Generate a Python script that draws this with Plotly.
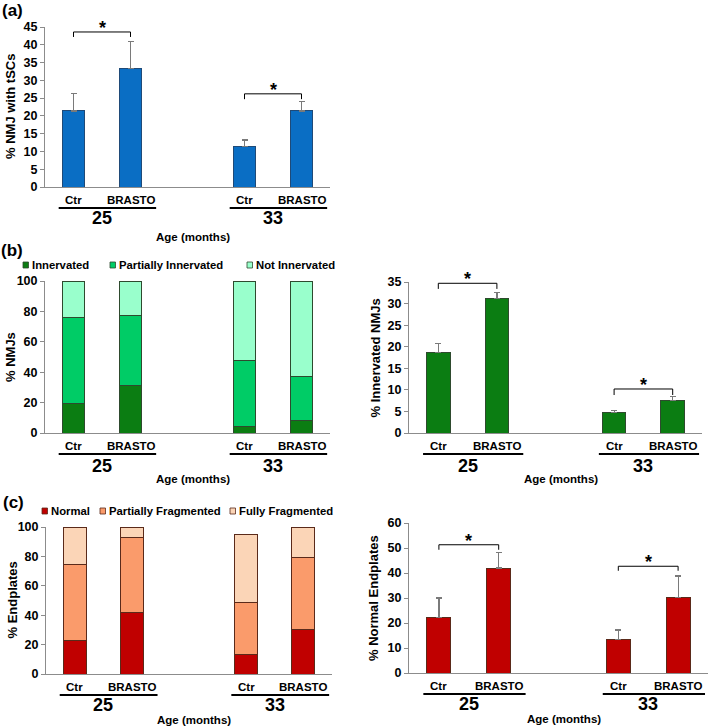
import plotly.graph_objects as go

W, H = 709, 726

# ---------------- data ----------------
ages = ["25", "33"]
conditions = ["Ctr", "BRASTO"]

tsc_mean = [21.4, 33.4, 11.3, 21.4]
tsc_err = [4.9, 7.5, 1.9, 2.6]

innerv_labels = ["Innervated", "Partially Innervated", "Not Innervated"]
innervated = [19.1, 31.4, 4.6, 7.9]
partially_innervated = [57.0, 45.8, 43.4, 29.6]
not_innervated = [23.9, 22.8, 52.0, 62.5]

innerv_mean = [18.6, 31.2, 4.8, 7.6]
innerv_err = [2.1, 1.4, 0.5, 0.9]

frag_labels = ["Normal", "Partially Fragmented", "Fully Fragmented"]
normal = [22.5, 42.0, 13.4, 30.0]
partially_fragmented = [52.0, 50.7, 35.5, 49.5]
fully_fragmented = [25.5, 7.3, 46.1, 20.5]

normal_mean = [22.3, 42.0, 13.3, 30.3]
normal_err = [7.7, 6.1, 3.9, 8.5]

# significance brackets: (age index, bracket height, tick bottom)
sig_a = [(0, 43.6, 42.2), (1, 26.2, 24.7)]
sig_b = [(0, 34.7, 33.4), (1, 10.2, 8.8)]
sig_c = [(0, 51.3, 49.3), (1, 42.7, 40.9)]

# ---------------- styling ----------------
FONT = "Liberation Sans, Arial, sans-serif"
AXIS_GRAY = "#8c8c8c"
BLUE, BLUE_EDGE = "#0A6EC4", "#1F4A78"
GREENS = ["#0B7D12", "#00CC66", "#99FFCC"]
GREEN_EDGE = "#2E4A2E"
REDS = ["#C00000", "#FA9B6B", "#FBD5B7"]
RED_EDGE = "#5A2A1A"

# x positions: Ctr/BRASTO side by side, empty slot between ages
xpos = [gi * 3 + ci for gi in range(len(ages)) for ci in range(len(conditions))]

# panel boxes in pixels: (left, right, top, bottom)
panels = {
    1: (45, 330, 27, 187),
    2: (45, 330, 281, 433),
    3: (409, 702, 282, 433),
    4: (46, 332, 527, 674),
    5: (409, 708, 523, 673),
}
yranges = {1: (0, 45, 5), 2: (0, 100, 20), 3: (0, 35, 5), 4: (0, 100, 20), 5: (0, 60, 10)}
ytitles = {1: "% NMJ with tSCs", 2: "% NMJs", 3: "% Innervated NMJs",
           4: "% Endplates", 5: "% Normal Endplates"}
ytitle_x = {1: 10, 2: 10, 3: 375, 4: 12, 5: 373}


def px(x):
    return x / W


def py(y):
    return 1 - y / H


fig = go.Figure()


def axname(i, kind):
    return kind if i == 1 else f"{kind}{i}"


def add_err_bars(i, means, errs, color, edge):
    fig.add_trace(go.Bar(
        x=xpos, y=means, width=0.4,
        marker=dict(color=color, line=dict(color=edge, width=1)),
        error_y=dict(type="data", array=errs, arrayminus=[0] * len(errs), symmetric=False,
                     color="#7a7a7a", thickness=1.2, width=3),
        xaxis=axname(i, "x"), yaxis=axname(i, "y"), showlegend=False))


def add_stack(i, series, names, colors, edge):
    for vals, nm, col in zip(series, names, colors):
        fig.add_trace(go.Bar(
            x=xpos, y=vals, width=0.4, name=nm,
            marker=dict(color=col, line=dict(color=edge, width=1)),
            xaxis=axname(i, "x"), yaxis=axname(i, "y"), showlegend=False))


add_err_bars(1, tsc_mean, tsc_err, BLUE, BLUE_EDGE)
add_stack(2, [innervated, partially_innervated, not_innervated], innerv_labels, GREENS, GREEN_EDGE)
add_err_bars(3, innerv_mean, innerv_err, GREENS[0], GREEN_EDGE)
add_stack(4, [normal, partially_fragmented, fully_fragmented], frag_labels, REDS, RED_EDGE)
add_err_bars(5, normal_mean, normal_err, REDS[0], RED_EDGE)

layout = dict(
    template="none",
    width=W, height=H, margin=dict(l=0, r=0, t=0, b=0, pad=0, autoexpand=False),
    paper_bgcolor="white", plot_bgcolor="rgba(0,0,0,0)", barmode="stack", showlegend=False,
    font=dict(family=FONT, size=12, color="black", weight="bold"),
)
shapes, annos = [], []


def ann(**kw):
    base = dict(showarrow=False, xanchor="center", yanchor="middle")
    base.update(kw)
    annos.append(base)


for i, (l, r, t, b) in panels.items():
    y0, y1, dt = yranges[i]
    layout[axname(i, "xaxis")] = dict(
        domain=[px(l), px(r)], range=[-0.5, 4.5], anchor=axname(i, "y"), automargin=False,
        showgrid=False, zeroline=False, showline=True, linecolor=AXIS_GRAY, linewidth=1,
        ticks="", showticklabels=False, fixedrange=True)
    layout[axname(i, "yaxis")] = dict(
        domain=[py(b), py(t)], range=[y0, y1], anchor=axname(i, "x"), automargin=False,
        showgrid=False, zeroline=False, showline=True, linecolor=AXIS_GRAY, linewidth=1,
        ticks="outside", ticklen=4, tickcolor=AXIS_GRAY, dtick=dt, tick0=0,
        tickfont=dict(family=FONT, size=12.5, color="black", weight="bold"), fixedrange=True)
    xr = axname(i, "x")
    # y title
    ann(text=ytitles[i], x=px(ytitle_x[i]), y=py((t + b) / 2), xref="paper", yref="paper",
        textangle=-90, font=dict(size=13, family=FONT, weight="bold"))
    # category labels
    for gi, age in enumerate(ages):
        for ci, cond in enumerate(conditions):
            ann(text=cond, x=gi * 3 + ci, y=py(b + 13), xref=xr, yref="paper",
                font=dict(size=11.5, family=FONT, weight="bold"))
        shapes.append(dict(type="line", xref=xr, yref="paper", x0=gi * 3 - 0.26, x1=gi * 3 + 1.45,
                           y0=py(b + 21), y1=py(b + 21), line=dict(color="black", width=2)))
        ann(text=age, x=gi * 3 + 0.5, y=py(b + 33 if i in (2, 3) else b + 31), xref=xr, yref="paper",
            font=dict(size=18, family=FONT, weight="bold"))
    ann(text="Age (months)", x=px((l + r) / 2 + 5), y=py(b + 46 if i != 1 else b + 50),
        xref="paper", yref="paper", font=dict(size=11.5, family=FONT, weight="bold"))

# significance brackets
for i, sigs in ((1, sig_a), (3, sig_b), (5, sig_c)):
    xr, yr = axname(i, "x"), axname(i, "y")
    for gi, yh, ylow in sigs:
        x0, x1 = gi * 3, gi * 3 + 1
        shapes.append(dict(type="path", xref=xr, yref=yr,
                           path=f"M {x0},{ylow} L {x0},{yh} L {x1},{yh} L {x1},{ylow}",
                           line=dict(color="black", width=1)))
        ann(text="*", x=(x0 + x1) / 2, y=yh, xref=xr, yref=yr, yanchor="bottom",
            yshift=-8, font=dict(size=18, family=FONT, weight="bold"))

# panel letters
for txt, xx, yy in (("(a)", 12, 10), ("(b)", 12, 250), ("(c)", 13, 503)):
    ann(text=txt, x=px(xx), y=py(yy), xref="paper", yref="paper",
        font=dict(size=17, family=FONT, weight="bold"))

# legends (b) and (c)
legend_items = [
    (innerv_labels, GREENS, GREEN_EDGE, [23, 110, 247], 265),
    (frag_labels, REDS, RED_EDGE, [42, 100, 230], 511),
]
for names, cols, edge, xs, yy in legend_items:
    for nm, col, xx in zip(names, cols, xs):
        shapes.append(dict(type="rect", xref="paper", yref="paper",
                           x0=px(xx), x1=px(xx + 5.5), y0=py(yy + 3), y1=py(yy - 3),
                           fillcolor=col, line=dict(color=edge, width=0.8)))
        ann(text=nm, x=px(xx + 6.5), y=py(yy), xref="paper", yref="paper", xanchor="left",
            font=dict(size=11.3, family=FONT, weight="bold"))

layout["shapes"] = shapes
layout["annotations"] = annos
fig.update_layout(**layout)
fig.write_html(
    "out.html",
    config={"displayModeBar": False, "staticPlot": True},
    post_script="document.body.style.margin='0';document.body.style.overflow='hidden';",
)
